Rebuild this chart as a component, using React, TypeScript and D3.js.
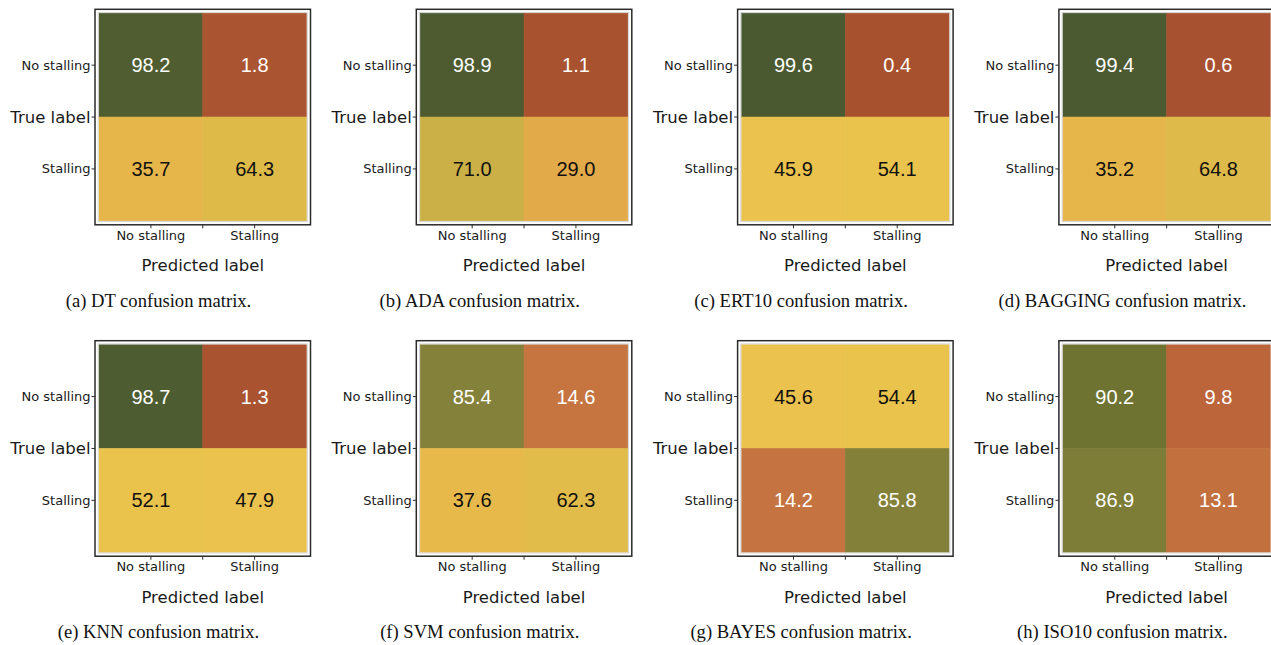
import React from "react";
import * as d3 from "d3";

const classLabels = ["No stalling", "Stalling"];
const modelNames = ["DT", "ADA", "ERT10", "BAGGING", "KNN", "SVM", "BAYES", "ISO10"];
const captionLetters = ["a", "b", "c", "d", "e", "f", "g", "h"];

// row-major: [TN, FP, FN, TP] as percentages
const dtValues = [98.2, 1.8, 35.7, 64.3];
const adaValues = [98.9, 1.1, 71.0, 29.0];
const ert10Values = [99.6, 0.4, 45.9, 54.1];
const baggingValues = [99.4, 0.6, 35.2, 64.8];
const knnValues = [98.7, 1.3, 52.1, 47.9];
const svmValues = [85.4, 14.6, 37.6, 62.3];
const bayesValues = [45.6, 54.4, 14.2, 85.8];
const iso10Values = [90.2, 9.8, 86.9, 13.1];

const allValues = [dtValues, adaValues, ert10Values, baggingValues, knnValues, svmValues, bayesValues, iso10Values];

// colour map (style)
const colorStops = [0, 10, 14.5, 29, 36, 46, 54, 64, 71, 85.5, 90, 99.6];
const colorRange = ["#a6502f", "#bc653b", "#c67541", "#e3aa49", "#e6b74b", "#eac24d", "#e9c34c", "#dfbb49", "#cab046", "#84813a", "#6f7431", "#4b5931"];
const color = d3.scaleLinear<string>().domain(colorStops).range(colorRange).interpolate(d3.interpolateRgb).clamp(true);

const W = 1271;
const H = 645;
const frameSize = 215.5;
const pad = 4;
const colStep = 321.3;
const rowStep = 331.4;
const originX = 95;
const originY = 9.3;

const labelFont = "'DejaVu Sans', Verdana, sans-serif";
const valueFont = "'Liberation Sans', Arial, sans-serif";
const captionFont = "'Liberation Serif', 'Times New Roman', serif";

function Panel({ idx }: { idx: number }) {
  const col = idx % 4;
  const row = Math.floor(idx / 4);
  const fx = originX + col * colStep;
  const fy = originY + row * rowStep;
  const cl = fx + pad;
  const cr = fx + frameSize - pad;
  const ct = fy + pad;
  const cb = fy + frameSize - pad;
  const x = d3.scaleBand<string>().domain(classLabels).range([cl, cr]);
  const y = d3.scaleBand<string>().domain(classLabels).range([ct, cb]);
  const vals = allValues[idx];
  const fb = fy + frameSize;
  const xTicks = [x(classLabels[0])! + x.bandwidth() / 2, (cl + cr) / 2, x(classLabels[1])! + x.bandwidth() / 2];
  const yTicks = [y(classLabels[0])! + y.bandwidth() / 2, (ct + cb) / 2, y(classLabels[1])! + y.bandwidth() / 2];
  return (
    <g>
      {classLabels.map((rl, i) =>
        classLabels.map((cl2, j) => {
          const v = vals[i * 2 + j];
          return (
            <rect key={`r${i}-${j}`} x={x(cl2)} y={y(rl)} width={x.bandwidth()} height={y.bandwidth()} fill={color(v)} stroke={color(v)} strokeWidth={0.6} />
          );
        })
      )}
      {classLabels.map((rl, i) =>
        classLabels.map((cl2, j) => {
          const v = vals[i * 2 + j];
          return (
            <text
              key={`t${i}-${j}`}
              x={x(cl2)! + x.bandwidth() / 2}
              y={y(rl)! + y.bandwidth() / 2}
              textAnchor="middle"
              dominantBaseline="central"
              fontFamily={valueFont}
              fontSize={20}
              fill={v < 20 || v > 80 ? "#ffffff" : "#111111"}
            >
              {v.toFixed(1)}
            </text>
          );
        })
      )}
      <rect x={cl - 0.8} y={ct - 0.8} width={cr - cl + 1.6} height={cb - ct + 1.6} fill="none" stroke="#d4d4d4" strokeWidth={1} />
      <rect x={fx} y={fy} width={frameSize} height={frameSize} fill="none" stroke="#2a2a2a" strokeWidth={1.5} />
      {yTicks.map((t, k) => (
        <line key={`yt${k}`} x1={fx - 3.5} x2={fx} y1={t} y2={t} stroke="#2a2a2a" strokeWidth={1} />
      ))}
      {xTicks.map((t, k) => (
        <line key={`xt${k}`} x1={t} x2={t} y1={fb} y2={fb + 3.5} stroke="#2a2a2a" strokeWidth={1} />
      ))}
      <text x={fx - 4.5} y={yTicks[0]} textAnchor="end" dominantBaseline="central" fontFamily={labelFont} fontSize={13} fill="#1a1a1a">
        {classLabels[0]}
      </text>
      <text x={fx - 4.5} y={yTicks[1] + 0.5} textAnchor="end" dominantBaseline="central" fontFamily={labelFont} fontSize={16.5} fill="#1a1a1a">
        True label
      </text>
      <text x={fx - 4.5} y={yTicks[2]} textAnchor="end" dominantBaseline="central" fontFamily={labelFont} fontSize={13} fill="#1a1a1a">
        {classLabels[1]}
      </text>
      {[0, 2].map((k, n) => (
        <text key={`xl${k}`} x={xTicks[k]} y={fb + 15} textAnchor="middle" fontFamily={labelFont} fontSize={13} fill="#1a1a1a">
          {classLabels[n]}
        </text>
      ))}
      <text x={xTicks[1]} y={fb + 46.5} textAnchor="middle" fontFamily={labelFont} fontSize={16.5} fill="#1a1a1a">
        Predicted label
      </text>
      <text x={fx + 63.5} y={fb + 82} textAnchor="middle" fontFamily={captionFont} fontSize={18.6} fill="#111">
        {`(${captionLetters[idx]}) ${modelNames[idx]} confusion matrix.`}
      </text>
    </g>
  );
}

export default function App() {
  return (
    <svg width={W} height={H} viewBox={`0 0 ${W} ${H}`} style={{ position: "absolute", left: 0, top: 0, background: "#fff" }}>
      <rect x={0} y={0} width={W} height={H} fill="#fff" />
      {modelNames.map((_, i) => (
        <Panel key={i} idx={i} />
      ))}
    </svg>
  );
}
